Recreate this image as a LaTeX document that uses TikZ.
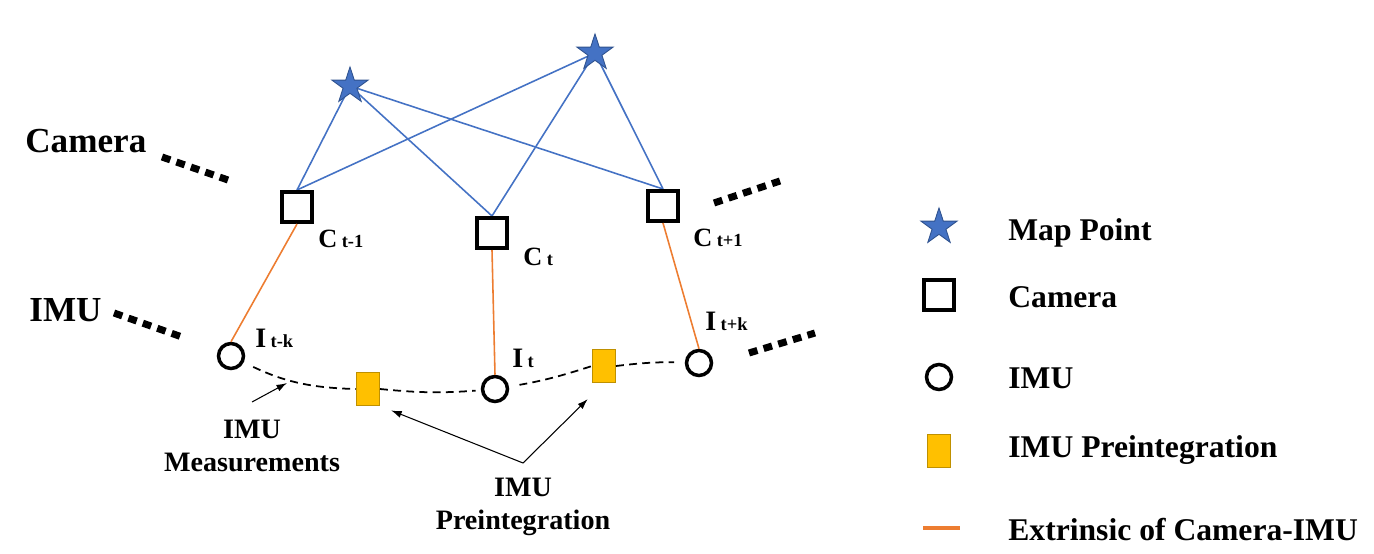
\documentclass[tikz,border=0pt]{standalone}
\usepackage{fontspec}
\setmainfont{Liberation Serif}
\definecolor{mapblue}{RGB}{68,114,196}
\definecolor{mapedge}{RGB}{47,82,143}
\definecolor{extorange}{RGB}{237,125,49}
\definecolor{preyellow}{RGB}{255,192,0}
\definecolor{preedge}{RGB}{191,144,0}
\usepackage{tikz}
\usetikzlibrary{shapes.geometric,arrows.meta,backgrounds,calc}
\newcommand{\framelbl}[3]{{\fontsize{#3}{18}\selectfont #1} {\fontsize{10.5}{12}\selectfont #2}}

\begin{document}
\begin{tikzpicture}[x=0.02cm, y=-0.02cm, every node/.style={font=\bfseries, inner sep=0pt},
    mappt/.style={star, star points=5, star point ratio=2.6, fill=mapblue, draw=mapedge, line width=0.5pt, minimum size=0.76cm},
    cam/.style={draw, line width=2.3pt, minimum size=0.6cm},
    imu/.style={circle, draw, line width=2pt, minimum size=0.5cm},
    preint/.style={draw=preedge, fill=preyellow, line width=0.6pt, minimum width=0.46cm, minimum height=0.66cm},
    obs/.style={mapblue, line width=0.9pt},
    ext/.style={extorange, line width=0.9pt},
    meas/.style={line width=1pt, dash pattern=on 4.5pt off 3pt},
    more/.style={line width=4pt, dash pattern=on 5pt off 3.7pt},
    arr/.style={-{Latex[length=6pt,width=4pt]}, line width=0.6pt},
    big/.style={font=\bfseries\fontsize{20}{24}\selectfont},
    lgtext/.style={anchor=base west, font=\bfseries\fontsize{18}{21}\selectfont}]
\useasboundingbox (0,0) rectangle (1374,554);

% graph
\node[mappt] (mp1) at (350,86) {};
\node[mappt] (mp2) at (595,53) {};
\node[cam] (c1) at (297,207) {};
\node[cam] (c2) at (492,233) {};
\node[cam] (c3) at (663,206) {};
\node[imu] (i1) at (231,356) {};
\node[imu] (i2) at (495,389) {};
\node[imu] (i3) at (699,363) {};
\node[preint] (p1) at (368,389) {};
\node[preint] (p2) at (604,366) {};

\begin{scope}[on background layer]
\foreach \m in {mp1,mp2}
  \foreach \c in {c1,c2,c3}
    \draw[obs] (\m.center) -- (\c.north);
\end{scope}
\draw[ext] (c1.south) -- (i1.north);
\draw[ext] (c2.south) -- (i2.north);
\draw[ext] (c3.south) -- (i3.north);

\draw[meas, shorten <=6pt] (i1) to[bend right=12] (p1.west);
\draw[meas, shorten >=3pt] (p1.east) to[bend right=5] (i2);
\draw[meas, shorten <=6pt] (i2) to[bend right=4] (p2.west);
\draw[meas, shorten >=6pt] (p2.east) to[bend left=4] (i3);

\draw[more] (162,157) -- (228,180);
\draw[more] (714,203) -- (780,181);
\draw[more] (114,313) -- (182,337);
\draw[more] (749,353) -- (815,333);

% labels
\node[big, anchor=base west] (camlbl) at (25,153) {Camera};
\node[big, anchor=base west] (imulbl) at (29,321) {IMU};
\node[anchor=base west] (c1lbl) at (318,248) {\framelbl{C}{t-1}{15}};
\node[anchor=base west] (c2lbl) at (523,265) {\framelbl{C}{t}{15}};
\node[anchor=base west] (c3lbl) at (693,247) {\framelbl{C}{t+1}{15}};
\node[anchor=base west] (i1lbl) at (255,347) {\framelbl{I}{t-k}{16}};
\node[anchor=base west] (i2lbl) at (512,367) {\framelbl{I}{t}{16}};
\node[anchor=base west] (i3lbl) at (705,330) {\framelbl{I}{t+k}{16}};

\node[align=center, font=\bfseries\fontsize{16}{18.7}\selectfont] (measlbl) at (252,446) {IMU\\Measurements};
\node[align=center, font=\bfseries\fontsize{16}{18.7}\selectfont] (prelbl) at (523,507) {IMU\\Preintegration};
\coordinate (measfoot) at (252,402);
\coordinate (meastip) at (287,383);
\coordinate (prefork) at (523,463);
\draw[arr] (measfoot) -- (meastip);
\draw[arr, shorten >=6.8pt] (prefork) -- (p1.south east);
\draw[arr, shorten >=13pt] (prefork) -- (p2.south);

% legend
\node[mappt] (lgstar) at (939,227) {};
\node[cam] (lgcam) at (939,295) {};
\node[imu] (lgimu) at (939,377) {};
\node[preint] (lgpre) at (939,451) {};
\draw[extorange, line width=1.8pt] (923,528) -- (960,528);
\node[lgtext] (lgstartxt) at (1008,240) {Map Point};
\node[lgtext] (lgcamtxt) at (1008,307) {Camera};
\node[lgtext] (lgimutxt) at (1008,388) {IMU};
\node[lgtext] (lgpretxt) at (1008,457) {IMU Preintegration};
\node[lgtext] (lgexttxt) at (1008,540) {Extrinsic of Camera-IMU};
\end{tikzpicture}
\end{document}
